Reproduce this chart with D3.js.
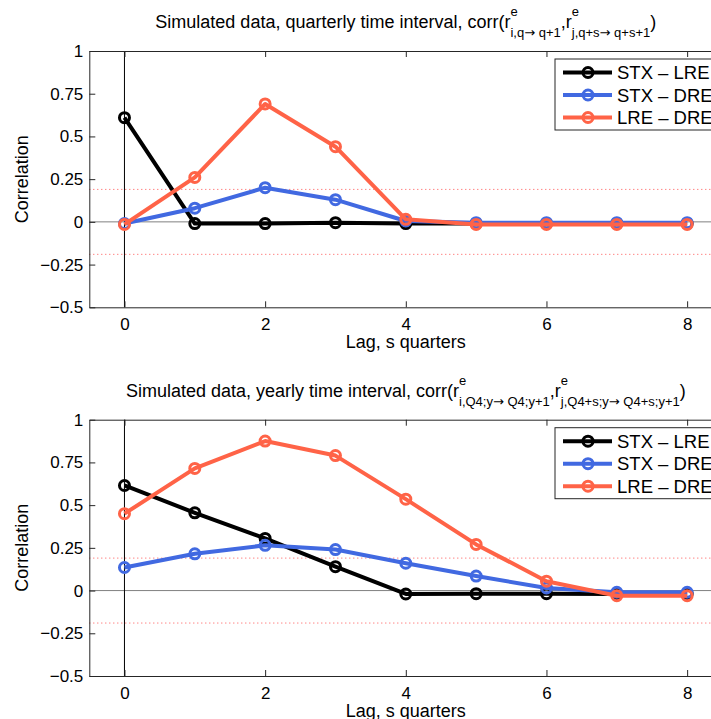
<!DOCTYPE html>
<html>
<head>
<meta charset="utf-8">
<script src="https://cdn.jsdelivr.net/npm/d3@7"></script>
<style>
  body { margin: 0; background: #fff; }
  svg { display: block; font-family: "Liberation Sans", Arial, Helvetica, sans-serif; }
</style>
</head>
<body>
<svg id="chart" width="711" height="719"></svg>
<script>
// lags on the x axis
const lags = [0, 1, 2, 3, 4, 5, 6, 7, 8];
const xTicks = [0, 2, 4, 6, 8];
const yTicks = [-0.5, -0.25, 0, 0.25, 0.5, 0.75, 1];
const yTickLabels = ["\u22120.5", "\u22120.25", "0", "0.25", "0.5", "0.75", "1"];
const seriesNames = ["STX \u2013 LRE", "STX \u2013 DRE", "LRE \u2013 DRE"];
const seriesColors = ["#000000", "#4169e1", "#ff6347"];
const bandLevel = 0.19;

// quarterly panel
const quarterlyStxLre = [0.61, -0.01, -0.01, -0.005, -0.01, -0.01, -0.01, -0.01, -0.01];
const quarterlyStxDre = [-0.01, 0.08, 0.20, 0.13, 0.005, -0.005, -0.005, -0.005, -0.005];
const quarterlyLreDre = [-0.015, 0.26, 0.69, 0.44, 0.015, -0.015, -0.015, -0.015, -0.015];

// yearly panel
const yearlyStxLre = [0.615, 0.455, 0.305, 0.14, -0.02, -0.018, -0.018, -0.02, -0.02];
const yearlyStxDre = [0.135, 0.215, 0.265, 0.24, 0.16, 0.085, 0.015, -0.01, -0.01];
const yearlyLreDre = [0.45, 0.715, 0.875, 0.79, 0.535, 0.27, 0.055, -0.03, -0.03];

const quarterlyTitle = ["Simulated data, quarterly time interval, corr(r", "i,q\u2192 q+1", "j,q+s\u2192 q+s+1"];
const yearlyTitle = ["Simulated data, yearly time interval, corr(r", "i,Q4;y\u2192 Q4;y+1", "j,Q4+s;y\u2192 Q4+s;y+1"];
const xLabel = "Lag, s quarters";
const yLabel = "Correlation";

const svg = d3.select("#chart");

const left = 89.3, right = 722.3, plotH = 256.3;

const x = d3.scaleLinear().domain([-0.5, 8.5]).range([left, right]);

function drawTitle(g, cx, baseline, parts) {
    const tg = g.append("g");
    let cur = 0;
    function piece(txt, size, dy, atX) {
        const t = tg.append("text")
                    .attr("x", atX)
                    .attr("y", baseline + dy)
                    .attr("font-size", size)
                    .attr("fill", "#000");
        // arrows drawn with a wider glyph, like the TeX \rightarrow
        txt.split(/(\u2192)/).forEach(s => {
            if (!s) return;
            const ts = t.append("tspan").text(s);
            if (s === "\u2192") ts.attr("font-family", "'DejaVu Sans', sans-serif");
        });
        return t.node().getComputedTextLength();
    }
    cur += piece(parts[0], 18, 0, cur);
    let w1 = piece("e", 13, -12, cur);
    let w2 = piece(parts[1], 13, 9, cur);
    cur += Math.max(w1, w2);
    cur += piece(",r", 18, 0, cur);
    w1 = piece("e", 13, -12, cur);
    w2 = piece(parts[2], 13, 9, cur);
    cur += Math.max(w1, w2);
    cur += piece(")", 18, 0, cur);
    tg.attr("transform", `translate(${cx - cur / 2}, 0)`);
}

function drawPanel(top, series, titleParts) {
    const bottom = top + plotH;
    const y = d3.scaleLinear().domain([-0.5, 1]).range([bottom, top]);
    const g = svg.append("g");

    drawTitle(g, (left + right) / 2, top - 23, titleParts);

    // white plot area
    g.append("rect")
     .attr("x", left).attr("y", top)
     .attr("width", right - left).attr("height", plotH)
     .attr("fill", "#fff");

    // reference lines
    g.append("line")
     .attr("x1", left).attr("x2", right)
     .attr("y1", y(0)).attr("y2", y(0))
     .attr("stroke", "#808080").attr("stroke-width", 1);
    g.append("line")
     .attr("x1", x(0)).attr("x2", x(0))
     .attr("y1", top).attr("y2", bottom)
     .attr("stroke", "#000").attr("stroke-width", 1);
    [bandLevel, -bandLevel].forEach(v => {
        g.append("line")
         .attr("x1", left).attr("x2", right)
         .attr("y1", y(v)).attr("y2", y(v))
         .attr("stroke", "#ff5050").attr("stroke-width", 1)
         .attr("stroke-dasharray", "1,3");
    });

    const line = d3.line().x((d, i) => x(lags[i])).y(d => y(d));

    series.forEach((vals, si) => {
        g.append("path")
         .datum(vals)
         .attr("d", line)
         .attr("fill", "none")
         .attr("stroke", seriesColors[si])
         .attr("stroke-width", 4)
         .attr("stroke-linejoin", "round");
        g.selectAll(null)
         .data(vals)
         .enter().append("circle")
                 .attr("cx", (d, i) => x(lags[i]))
                 .attr("cy", d => y(d))
                 .attr("r", 5)
                 .attr("fill", "none")
                 .attr("stroke", seriesColors[si])
                 .attr("stroke-width", 3);
    });

    // axes, MATLAB style box with inward ticks
    g.append("g").attr("transform", `translate(0,${bottom})`)
     .call(d3.axisBottom(x).tickValues(xTicks).tickSizeInner(-6).tickSizeOuter(0).tickPadding(11).tickFormat(d3.format("d")));
    g.append("g").attr("transform", `translate(0,${top})`)
     .call(d3.axisTop(x).tickValues(xTicks).tickSizeInner(-6).tickSizeOuter(0).tickFormat(""));
    g.append("g").attr("transform", `translate(${left},0)`)
     .call(d3.axisLeft(y).tickValues(yTicks).tickSizeInner(-6).tickSizeOuter(0).tickPadding(6)
           .tickFormat((d, i) => yTickLabels[i]));
    g.append("g").attr("transform", `translate(${right},0)`)
     .call(d3.axisRight(y).tickValues(yTicks).tickSizeInner(-6).tickSizeOuter(0).tickFormat(""));

    g.selectAll(".domain").attr("stroke", "#262626");
    g.selectAll(".tick line").attr("stroke", "#262626");
    g.selectAll(".tick text").attr("font-size", 17).attr("fill", "#000")
     .attr("font-family", "'Liberation Sans', Arial, Helvetica, sans-serif");

    g.append("text")
     .attr("x", (left + right) / 2).attr("y", bottom + 41)
     .attr("text-anchor", "middle").attr("font-size", 18)
     .text(xLabel);
    g.append("text")
     .attr("transform", `translate(28,${(top + bottom) / 2}) rotate(-90)`)
     .attr("text-anchor", "middle").attr("font-size", 18)
     .text(yLabel);

    // legend
    const lg = g.append("g").attr("transform", `translate(555,${top + 8})`);
    lg.append("rect")
      .attr("x", 0).attr("y", 0).attr("width", 200).attr("height", 71)
      .attr("fill", "#fff").attr("stroke", "#262626").attr("stroke-width", 1);
    seriesNames.forEach((name, i) => {
        const cy = 13.5 + i * 22.5;
        lg.append("line")
          .attr("x1", 8).attr("x2", 57).attr("y1", cy).attr("y2", cy)
          .attr("stroke", seriesColors[i]).attr("stroke-width", 4);
        lg.append("circle")
          .attr("cx", 33).attr("cy", cy).attr("r", 5)
          .attr("fill", "none").attr("stroke", seriesColors[i]).attr("stroke-width", 3);
        lg.append("text")
          .attr("x", 62).attr("y", cy + 6.5)
          .attr("font-size", 18.5)
          .text(name);
    });
}

drawPanel(51, [quarterlyStxLre, quarterlyStxDre, quarterlyLreDre], quarterlyTitle);
drawPanel(419.7, [yearlyStxLre, yearlyStxDre, yearlyLreDre], yearlyTitle);
</script>
</body>
</html>
